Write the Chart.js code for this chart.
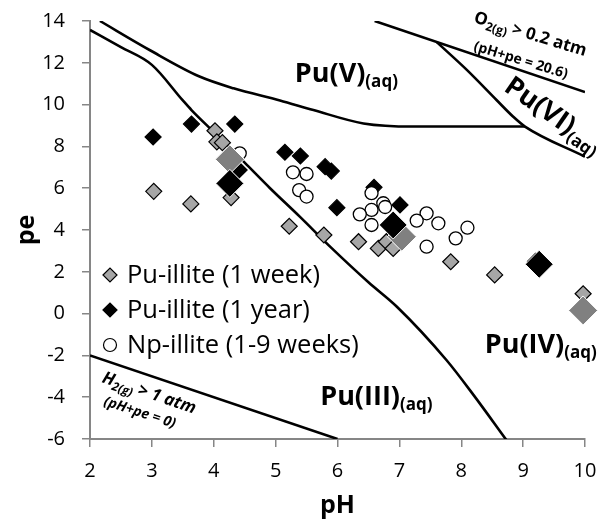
<!DOCTYPE html>
<html>
<head>
<meta charset="utf-8">
<script src="https://cdn.jsdelivr.net/npm/chart.js@4/dist/chart.umd.min.js"></script>
<style>
  html, body { margin: 0; padding: 0; background: #fff; }
  #wrap { width: 605px; height: 521px; }
</style>
</head>
<body>
<div id="wrap"><canvas id="eh" width="605" height="521"></canvas></div>
<script>
// Pu / Np on illite, Eh-pH (pe-pH) diagram

// ─── Data ─────────────────────────────────────────────────────────────────────
const weekPH = [3.03, 3.63, 4.02, 4.05, 4.14, 4.28, 5.22, 5.78, 6.34, 6.66, 6.79, 6.90, 7.83, 8.54, 9.97];
const weekPE = [5.85, 5.25, 8.75, 8.22, 8.18, 5.55, 4.18, 3.76, 3.44, 3.12, 3.44, 3.12, 2.48, 1.85, 0.95];

const yearPH = [3.02, 3.64, 4.34, 4.41, 5.15, 5.40, 5.80, 5.90, 5.99, 6.59, 7.01, 9.20];
const yearPE = [8.45, 9.07, 9.07, 6.87, 7.72, 7.54, 7.03, 6.82, 5.07, 6.04, 5.20, 2.50];

const npPH = [4.42, 5.28, 5.50, 5.38, 5.50, 6.55, 6.74, 6.77, 6.55, 6.36, 6.55, 7.44, 7.28, 7.63, 7.44, 8.10, 7.91];
const npPE = [7.67, 6.76, 6.68, 5.91, 5.60, 5.76, 5.28, 5.10, 4.96, 4.75, 4.24, 4.80, 4.45, 4.32, 3.20, 4.11, 3.60];

// larger markers (averages)
const weekAvgPH = [4.26, 7.04, 9.97];
const weekAvgPE = [7.38, 3.68, 0.15];
const yearAvgPH = [4.26, 6.90, 9.26];
const yearAvgPE = [6.23, 4.24, 2.36];

// stability field boundaries
const o2PH = [6.6, 10];
const o2PE = [14, 10.6];
const h2PH = [2, 6];
const h2PE = [-2, -6];
const pu34PH = [2, 2.5, 3, 3.5, 3.64, 4, 4.5, 4.91, 5.39, 5.91, 6.5, 6.96, 7.76, 8.2, 8.73];
const pu34PE = [13.57, 12.75, 11.9, 10.2, 9.74, 8.69, 7.22, 6.0, 4.64, 3.12, 1.5, 0.33, -2.22, -3.9, -6.05];
const pu45PH = [2.16, 2.97, 3.78, 4.32, 5.07, 5.61, 6.42, 7.22, 9.03];
const pu45PE = [14, 12.6, 11.33, 10.78, 10.2, 9.74, 9.1, 8.95, 8.95];
const pu56PH = [7.6, 8.09, 8.57, 8.84, 9.03, 10];
const pu56PE = [13.0, 11.66, 10.22, 9.42, 8.95, 7.51];

const xTicks = [2, 3, 4, 5, 6, 7, 8, 9, 10];
const yTicks = [-6, -4, -2, 0, 2, 4, 6, 8, 10, 12, 14];

const legendItems = ["Pu-illite (1 week)", "Pu-illite (1 year)", "Np-illite (1-9 weeks)"];

// ─── Helpers ──────────────────────────────────────────────────────────────────
const pts = (xs, ys) => xs.map((x, i) => ({ x, y: ys[i] }));

const FONT = "'Open Sans', sans-serif";
const AXIS_GREY = "#868686";

function boundary(xs, ys, smooth) {
  return {
    type: "line", data: pts(xs, ys), showLine: true,
    borderColor: "#000", borderWidth: 2.6, pointRadius: 0,
    fill: false, tension: 0,
    cubicInterpolationMode: smooth ? "monotone" : "default"
  };
}

// rich text: parts = [{t, font, dy}]
function drawRich(ctx, x, y, angle, parts) {
  ctx.save();
  ctx.translate(x, y);
  ctx.rotate(angle * Math.PI / 180);
  ctx.textAlign = "left";
  ctx.textBaseline = "alphabetic";
  ctx.fillStyle = "#000";
  let cx = 0;
  parts.forEach(p => {
    ctx.font = p.font;
    ctx.fillText(p.t, cx, p.dy || 0);
    cx += ctx.measureText(p.t).width;
  });
  ctx.restore();
}

const big = s => `bold ${s}px ${FONT}`;
const bigIt = s => `italic bold ${s}px ${FONT}`;

// labels anchored in data coords (pH, pe) at baseline-left
const labels = [
  { x: 5.31, y: 11.08, a: 0, parts: [{ t: "Pu(V)", font: big(27) }, { t: "(aq)", font: big(17), dy: 5 }] },
  { x: 8.67, y: 10.70, a: 35, parts: [{ t: "Pu(VI)", font: big(27) }, { t: "(aq)", font: big(17), dy: 5 }] },
  { x: 5.72, y: -4.37, a: 0, parts: [{ t: "Pu(III)", font: big(27) }, { t: "(aq)", font: big(17), dy: 5 }] },
  { x: 8.38, y: -1.89, a: 0, parts: [{ t: "Pu(IV)", font: big(27) }, { t: "(aq)", font: big(17), dy: 5 }] },
  { x: 8.19, y: 13.95, a: 17, parts: [{ t: "O", font: big(17) }, { t: "2(g)", font: big(12), dy: 4 }, { t: " > 0.2 atm", font: big(17) }] },
  { x: 8.19, y: 12.61, a: 17, parts: [{ t: "(pH+pe = 20.6)", font: big(14) }] },
  { x: 2.18, y: -3.27, a: 19, parts: [{ t: "H", font: bigIt(17) }, { t: "2(g)", font: bigIt(12), dy: 4 }, { t: " > 1 atm", font: bigIt(17) }] },
  { x: 2.21, y: -4.37, a: 18, parts: [{ t: "(pH+pe = 0)", font: bigIt(14) }] }
];

function diamond(ctx, x, y, r, fill) {
  ctx.beginPath();
  ctx.moveTo(x - r, y); ctx.lineTo(x, y - r); ctx.lineTo(x + r, y); ctx.lineTo(x, y + r);
  ctx.closePath();
  ctx.fillStyle = fill; ctx.fill();
  ctx.lineWidth = 1.2; ctx.strokeStyle = "#000"; ctx.stroke();
}

const overlay = {
  id: "overlay",
  afterDatasetsDraw(chart) {
    const { ctx, scales: { x, y }, chartArea } = chart;
    labels.forEach(l => drawRich(ctx, x.getPixelForValue(l.x), y.getPixelForValue(l.y), l.a, l.parts));

    // legend inside plot
    const lx = chartArea.left + 20, tx = chartArea.left + 37;
    const rows = [275, 310, 345];
    diamond(ctx, lx, rows[0], 7, "#a6a6a6");
    diamond(ctx, lx, rows[1], 7, "#000");
    ctx.beginPath(); ctx.arc(lx, rows[2], 6.5, 0, Math.PI * 2);
    ctx.fillStyle = "#fff"; ctx.fill(); ctx.lineWidth = 1.2; ctx.strokeStyle = "#000"; ctx.stroke();
    ctx.fillStyle = "#000";
    ctx.font = `25.5px ${FONT}`;
    ctx.textAlign = "left"; ctx.textBaseline = "middle";
    legendItems.forEach((t, i) => ctx.fillText(t, tx, rows[i] + 1));
  }
};

// ─── Chart ────────────────────────────────────────────────────────────────────
const ctx = document.getElementById("eh").getContext("2d");
new Chart(ctx, {
  type: "scatter",
  data: {
    datasets: [
      { label: "yearAvg", data: pts(yearAvgPH, yearAvgPE), pointStyle: "rectRot", pointRadius: 14, clip: false,
        backgroundColor: "#000", borderColor: "#fff", borderWidth: 1 },
      { label: "weekAvg", data: pts(weekAvgPH, weekAvgPE), pointStyle: "rectRot", pointRadius: 14.5, clip: false,
        backgroundColor: "#808080", borderColor: "#fff", borderWidth: 1 },
      { label: legendItems[2], data: pts(npPH, npPE), pointStyle: "circle", pointRadius: 6.5, clip: false,
        backgroundColor: "#fff", borderColor: "#000", borderWidth: 1.3 },
      { label: legendItems[1], data: pts(yearPH, yearPE), pointStyle: "rectRot", pointRadius: 8, clip: false,
        backgroundColor: "#000", borderColor: "#000", borderWidth: 1.2 },
      { label: legendItems[0], data: pts(weekPH, weekPE), pointStyle: "rectRot", pointRadius: 8, clip: false,
        backgroundColor: "#a6a6a6", borderColor: "#000", borderWidth: 1.2 },
      boundary(o2PH, o2PE, false),
      boundary(h2PH, h2PE, false),
      boundary(pu34PH, pu34PE, true),
      boundary(pu45PH, pu45PE, true),
      boundary(pu56PH, pu56PE, true)
    ]
  },
  options: {
    responsive: false,
    animation: false,
    devicePixelRatio: 1,
    layout: { padding: { left: 0, right: 20, top: 21, bottom: 0 } },
    plugins: { legend: { display: false }, tooltip: { enabled: false } },
    scales: {
      x: {
        type: "linear", min: 2, max: 10,
        afterBuildTicks: s => { s.ticks = xTicks.map(v => ({ value: v })); },
        afterFit: s => { s.height = 82; s.paddingLeft = 0; s.paddingRight = 0; },
        ticks: { color: "#000", font: { family: FONT, size: 20 }, padding: 12 },
        grid: { drawOnChartArea: false, drawTicks: true, tickLength: 8, color: AXIS_GREY, lineWidth: 1.5 },
        border: { color: AXIS_GREY, width: 2 },
        title: { display: true, text: "pH", color: "#000", font: { family: FONT, size: 25, weight: "bold" }, padding: { top: 12, bottom: 0 } }
      },
      y: {
        type: "linear", min: -6, max: 14,
        afterBuildTicks: s => { s.ticks = yTicks.map(v => ({ value: v })); },
        afterFit: s => { s.width = 90; s.paddingTop = 0; s.paddingBottom = 0; },
        ticks: { color: "#000", font: { family: FONT, size: 20 }, padding: 17 },
        grid: { drawOnChartArea: false, drawTicks: true, tickLength: 8, color: AXIS_GREY, lineWidth: 1.5 },
        border: { color: AXIS_GREY, width: 2 },
        title: { display: true, text: "pe", color: "#000", font: { family: FONT, size: 25, weight: "bold" }, padding: { top: 12, bottom: 0 } }
      }
    }
  },
  plugins: [overlay]
});
</script>
</body>
</html>
